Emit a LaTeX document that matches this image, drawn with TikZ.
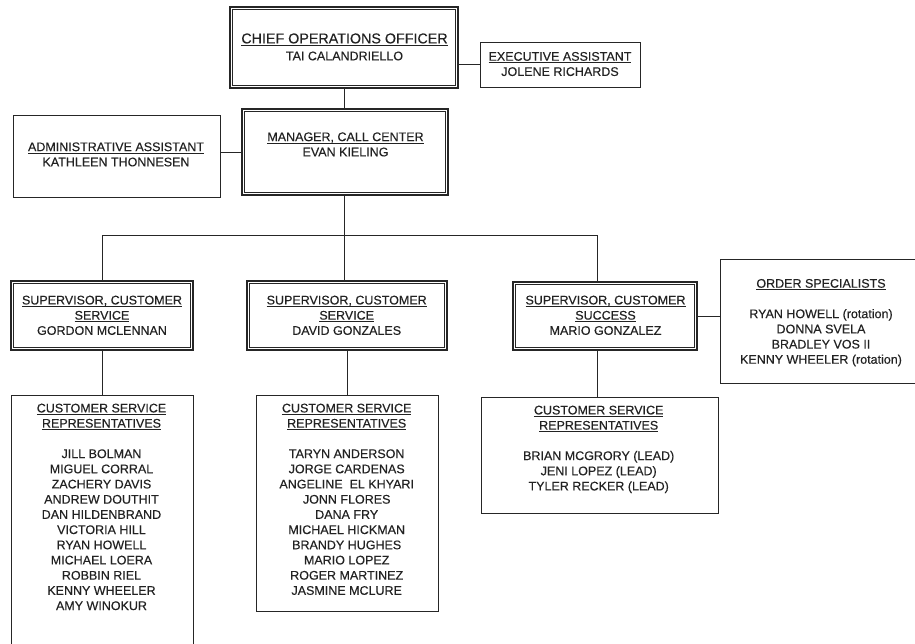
\documentclass[tikz,border=0pt]{standalone}
\usepackage{fontspec}
\setmainfont{Liberation Sans}[FakeBold=0.3]
\usetikzlibrary{backgrounds}

\definecolor{linec}{HTML}{262626}
\definecolor{inkc}{HTML}{222222}

% underlined heading line: rule a little below the baseline
\newsavebox\hdrbox
\newcommand\hdr[1]{\sbox\hdrbox{#1}\rlap{\rule[-2.2pt]{\wd\hdrbox}{0.8pt}}\usebox\hdrbox}

\tikzset{
  link/.style={draw=linec, line width=0.9pt},
  sbox/.style={draw=linec, line width=0.9pt, fill=white, inner sep=0pt},
  dbox/.style={draw=linec, line width=1.5pt, fill=white, inner sep=0pt},
  innerframe/.style={draw=linec, line width=0.9pt},
  lbl/.style={anchor=north, align=center, inner sep=0pt, text=inkc,
              font=\fontsize{12.5}{15.2}\selectfont},
}

\begin{document}
\begin{tikzpicture}[x=1pt, y=-1pt]
  \useasboundingbox (0,0) rectangle (915,644);
  \clip (0,0) rectangle (915,644);

  % ---- boxes ----
  \node[dbox, minimum width=228pt, minimum height=81pt] (coo) at (344,47.5) {};
  \node[sbox, minimum width=160pt, minimum height=45pt] (ea)  at (560,64.5) {};
  \node[dbox, minimum width=206pt, minimum height=86pt] (mgr) at (345,152) {};
  \node[sbox, minimum width=207pt, minimum height=82pt] (adm) at (116.5,156) {};

  \node[dbox, minimum width=182pt, minimum height=69pt] (supL) at (102,315.5) {};
  \node[dbox, minimum width=200pt, minimum height=69pt] (supM) at (347,315.5) {};
  \node[dbox, minimum width=184pt, minimum height=68pt] (supR) at (605,316) {};
  \node[sbox, minimum width=203pt, minimum height=124pt] (ord) at (821.5,321) {};

  \node[sbox, minimum width=182pt, minimum height=265pt] (csrL) at (102,527.5) {};
  \node[sbox, minimum width=182pt, minimum height=216pt] (csrM) at (347,503) {};
  \node[sbox, minimum width=237pt, minimum height=116pt] (csrR) at (599.5,455) {};

  % inner line of the double frames
  \foreach \n in {coo,mgr,supL,supM,supR}
    \draw[innerframe] ([shift={(3.2pt,-3.2pt)}]\n.north west)
                      rectangle ([shift={(-3.2pt,3.2pt)}]\n.south east);

  % ---- branch points ----
  \coordinate (bus)  at (344,235);
  \coordinate (busR) at (597,235);

  % ---- connectors (kept behind the boxes) ----
  \begin{pgfonlayer}{background}
    \fill[white] (0,0) rectangle (915,644);
    \draw[link] (ea.west) -- (ea.west -| coo.east);
    \draw[link] (coo.south) -- (coo.south |- mgr.north);
    \draw[link] (mgr.west) -- (mgr.west -| adm.east);
    \draw[link] (bus |- mgr.south) -- (bus);
    \draw[link] (bus) -| (supL.north);
    \draw[link] (bus) -- (bus |- supM.north);
    \draw[link] (bus) -- (busR) -- (busR |- supR.north);
    \draw[link] (supR.east) -- (supR.east -| ord.west);
    \draw[link] (supL.south) -- (csrL.north);
    \draw[link] (supM.south) -- (csrM.north);
    \draw[link] (busR |- supR.south) -- (busR |- csrR.north);
  \end{pgfonlayer}

  % ---- texts ----
  \node[lbl] (cooT) at (344.5,33.2)
    {{\fontsize{14.3}{17}\selectfont\hdr{CHIEF OPERATIONS OFFICER}}\\[1.7pt]
     TAI CALANDRIELLO};
  \node[lbl] (eaT) at (560,51.8)
    {\hdr{EXECUTIVE ASSISTANT}\\ JOLENE RICHARDS};
  \node[lbl] (mgrT) at (345.5,132.2)
    {\hdr{MANAGER, CALL CENTER}\\ EVAN KIELING};
  \node[lbl] (admT) at (116,142.2)
    {\hdr{ADMINISTRATIVE ASSISTANT}\\ KATHLEEN THONNESEN};

  \node[lbl] (supLT) at (102,295.5)
    {\hdr{SUPERVISOR, CUSTOMER}\\ \hdr{SERVICE}\\ GORDON MCLENNAN};
  \node[lbl] (supMT) at (346.7,295.5)
    {\hdr{SUPERVISOR, CUSTOMER}\\ \hdr{SERVICE}\\ DAVID GONZALES};
  \node[lbl] (supRT) at (605.5,295.5)
    {\hdr{SUPERVISOR, CUSTOMER}\\ \hdr{SUCCESS}\\ MARIO GONZALEZ};
  \node[lbl] (ordT) at (821,278.8)
    {\hdr{ORDER SPECIALISTS}\\[15.2pt]
     RYAN HOWELL (rotation)\\ DONNA SVELA\\ BRADLEY VOS II\\ KENNY WHEELER (rotation)};

  \node[lbl] (csrLT) at (101.5,403.5)
    {\hdr{CUSTOMER SERVICE}\\ \hdr{REPRESENTATIVES}\\[15.2pt]
     JILL BOLMAN\\ MIGUEL CORRAL\\ ZACHERY DAVIS\\ ANDREW DOUTHIT\\
     DAN HILDENBRAND\\ VICTORIA HILL\\ RYAN HOWELL\\ MICHAEL LOERA\\
     ROBBIN RIEL\\ KENNY WHEELER\\ AMY WINOKUR};
  \node[lbl] (csrMT) at (346.7,403.5)
    {\hdr{CUSTOMER SERVICE}\\ \hdr{REPRESENTATIVES}\\[15.2pt]
     TARYN ANDERSON\\ JORGE CARDENAS\\ ANGELINE\ \ EL KHYARI\\ JONN FLORES\\
     DANA FRY\\ MICHAEL HICKMAN\\ BRANDY HUGHES\\ MARIO LOPEZ\\
     ROGER MARTINEZ\\ JASMINE MCLURE};
  \node[lbl] (csrRT) at (598.7,405.5)
    {\hdr{CUSTOMER SERVICE}\\ \hdr{REPRESENTATIVES}\\[15.2pt]
     BRIAN MCGRORY (LEAD)\\ JENI LOPEZ (LEAD)\\ TYLER RECKER (LEAD)};
\end{tikzpicture}
\end{document}
